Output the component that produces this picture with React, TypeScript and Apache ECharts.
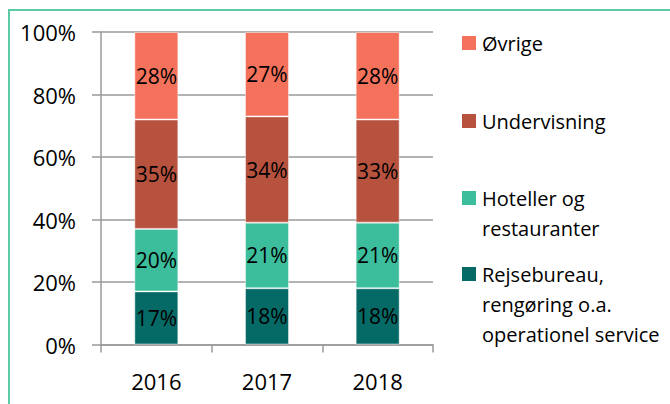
import React, { useEffect, useRef } from "react";
import * as echarts from "echarts";

const categories = ["2016", "2017", "2018"];
const seriesNames = [
  "Rejsebureau, rengøring o.a. operationel service",
  "Hoteller og restauranter",
  "Undervisning",
  "Øvrige",
];
const legendLines = [
  ["Rejsebureau,", "rengøring o.a.", "operationel service"],
  ["Hoteller og", "restauranter"],
  ["Undervisning"],
  ["Øvrige"],
];
const rejsebureau = [17, 18, 18];
const hoteller = [20, 21, 21];
const undervisning = [35, 34, 33];
const oevrige = [28, 27, 28];
const seriesValues = [rejsebureau, hoteller, undervisning, oevrige];
const colors = ["#056A66", "#3CBD9C", "#B7523F", "#F4725C"];
const yTicks = { min: 0, max: 100, interval: 20 };

const FONT = "'Open Sans', sans-serif";

export default function App() {
  const ref = useRef<HTMLDivElement>(null);
  useEffect(() => {
    if (!ref.current) return;
    const chart = echarts.init(ref.current, undefined, { renderer: "svg" });
    const legendY = [274, 198, 121, 43];
    const legendGraphics: any[] = [];
    legendLines.forEach((lines, i) => {
      legendGraphics.push({
        type: "rect",
        shape: { x: 462, y: legendY[i] - 7, width: 14, height: 14 },
        style: { fill: colors[i] },
      });
      legendGraphics.push({
        type: "text",
        x: 482,
        y: legendY[i] - 15,
        style: {
          text: lines.join("\n"),
          fontFamily: FONT,
          fontSize: 20,
          lineHeight: 30,
          fill: "#000",
          verticalAlign: "top",
          align: "left",
        },
      });
    });
    chart.setOption({
      animation: false,
      backgroundColor: "#fff",
      grid: { left: 101, top: 32, right: 237, bottom: 59.5, containLabel: false },
      xAxis: {
        type: "category",
        data: categories,
        axisLine: { show: true, lineStyle: { color: "#9A9A9A", width: 1.5 } },
        axisTick: { show: true, length: 8, alignWithLabel: false, lineStyle: { color: "#9A9A9A", width: 1.5 } },
        axisLabel: { margin: 25, fontFamily: FONT, fontSize: 22, color: "#000" },
        splitLine: { show: false },
      },
      yAxis: {
        type: "value",
        min: yTicks.min,
        max: yTicks.max,
        interval: yTicks.interval,
        axisLine: { show: true, lineStyle: { color: "#9A9A9A", width: 1.5 } },
        axisTick: { show: true, length: 9, lineStyle: { color: "#9A9A9A", width: 1.5 } },
        axisLabel: { margin: 25, formatter: "{value}%", fontFamily: FONT, fontSize: 22, color: "#000" },
        splitLine: { show: true, lineStyle: { color: "#9A9A9A", width: 1.5 } },
      },
      series: seriesValues.map((vals, i) => ({
        name: seriesNames[i],
        type: "bar",
        stack: "total",
        data: vals,
        barWidth: 44,
        itemStyle: { color: colors[i], borderColor: "rgba(255,255,255,0.45)", borderWidth: 1 },
        label: {
          show: true,
          position: "inside",
          formatter: "{c}%",
          fontFamily: FONT,
          fontSize: 21,
          color: "#000",
        },
      })),
      graphic: [
        {
          type: "rect",
          shape: { x: 9, y: 10, width: 720, height: 440 },
          style: { fill: "none", stroke: "#5CC9A7", lineWidth: 2 },
          silent: true,
        },
        ...legendGraphics,
      ],
    });
    return () => chart.dispose();
  }, []);
  return (
    <div
      ref={ref}
      style={{ position: "absolute", left: 0, top: 0, width: 670, height: 404 }}
    />
  );
}
